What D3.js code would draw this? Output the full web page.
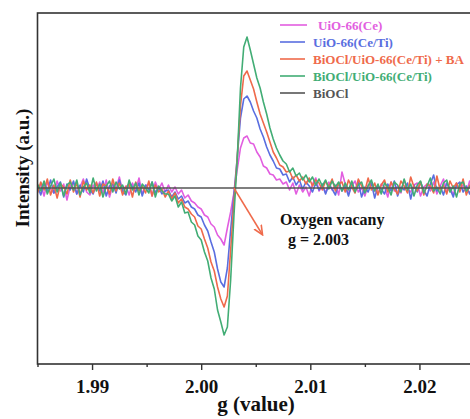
<!DOCTYPE html>
<html>
<head>
<meta charset="utf-8">
<script src="https://cdn.jsdelivr.net/npm/d3@7"></script>
<style>
  body { margin: 0; background: #fff; }
  svg { display: block; font-family: "Liberation Serif", "Times New Roman", serif; font-weight: bold; }
</style>
</head>
<body>
<div id="chart"></div>
<script>
// g values of the field sweep (shared by every trace)
var gValues = [
  1.9850, 1.9853, 1.9856, 1.9859, 1.9862, 1.9865, 1.9868, 1.9871, 1.9874, 1.9877,
  1.9880, 1.9883, 1.9886, 1.9889, 1.9892, 1.9895, 1.9898, 1.9901, 1.9904, 1.9907,
  1.9910, 1.9913, 1.9916, 1.9919, 1.9922, 1.9925, 1.9928, 1.9931, 1.9934, 1.9937,
  1.9940, 1.9943, 1.9946, 1.9949, 1.9952, 1.9955, 1.9958, 1.9961, 1.9964, 1.9967,
  1.9970, 1.9973, 1.9976, 1.9979, 1.9982, 1.9985, 1.9988, 1.9991, 1.9994, 1.9997,
  2.0000, 2.0003, 2.0006, 2.0009, 2.0012, 2.0015, 2.0018, 2.0021, 2.0024, 2.0027,
  2.0030, 2.0033, 2.0036, 2.0039, 2.0042, 2.0045, 2.0048, 2.0051, 2.0054, 2.0057,
  2.0060, 2.0063, 2.0066, 2.0069, 2.0072, 2.0075, 2.0078, 2.0081, 2.0084, 2.0087,
  2.0090, 2.0093, 2.0096, 2.0099, 2.0102, 2.0105, 2.0108, 2.0111, 2.0114, 2.0117,
  2.0120, 2.0123, 2.0126, 2.0129, 2.0132, 2.0135, 2.0138, 2.0141, 2.0144, 2.0147,
  2.0150, 2.0153, 2.0156, 2.0159, 2.0162, 2.0165, 2.0168, 2.0171, 2.0174, 2.0177,
  2.0180, 2.0183, 2.0186, 2.0189, 2.0192, 2.0195, 2.0198, 2.0201, 2.0204, 2.0207,
  2.0210, 2.0213, 2.0216, 2.0219, 2.0222, 2.0225, 2.0228, 2.0231, 2.0234, 2.0237,
  2.0240, 2.0243, 2.0246, 2.0249
];

// intensities (a.u.)
var uioCe = [
  -3, 4, -8, 6, -1, -5, 7, -3, 4, -12,
  2, 5, -6, 1, 9, -4, -7, 3, -2, 6,
  -5, 8, -9, 3, -1, 11, -4, 2, -7, 5,
  -3, 10, -6, 2, 4, -8, 6, -2, 5, -4,
  3, -4, 1, -6, -2, -10, -7, -13, -15, -19,
  -21, -27, -29, -36, -39, -47, -51, -57, -40, -24,
  -5, 18, 40, 50, 52, 45, 44, 36, 31, 22,
  20, 14, 13, 8, 9, 4, 6, -2, 5, -6,
  3, -4, 1, -8, 4, 10, -3, 2, -5, 6,
  -2, 3, -7, 16, 4, -6, 2, 7, -4, 0,
  -8, 3, 5, -2, -6, 4, 1, -9, 6, -3,
  2, -5, 8, -1, -4, 3, 5, -8, 1, 4,
  -3, 6, -6, 2, 9, -4, 1, -7, 5, -2,
  3, -5, 7, -1
];
var uioCeTi = [
  2, -7, 5, -3, 8, -5, 1, 6, -9, 4,
  -2, 7, -6, 3, -4, 9, -1, -6, 5, -3,
  7, -8, 2, 4, -5, 8, -3, -7, 6, 1,
  -4, 5, -8, 3, -2, 6, -5, 1, -6, -3,
  -2, -9, -4, -11, -8, -15, -13, -19, -21, -27,
  -29, -37, -43, -54, -64, -81, -94, -99, -80, -42,
  -6, 30, 70, 89, 92, 86, 77, 70, 59, 51,
  41, 33, 27, 20, 19, 13, 14, 6, 11, 3,
  8, -1, 6, 2, -4, 5, -2, 4, -6, 3,
  -1, -7, 5, -3, 2, -8, 4, -2, 6, -9,
  1, -4, 5, -10, 2, -1, -6, 4, -3, 7,
  -8, 1, -2, 5, -11, 3, -4, 6, -2, -8,
  4, 13, -3, 2, -7, 5, -1, -9, 3, 6,
  -4, 2, -6, 4
];
var compositeBA = [
  -5, 6, -2, 9, -7, 3, -10, 4, 1, -6,
  8, -4, 5, -9, 7, -2, 3, -5, 6, -8,
  4, 2, -6, 9, -3, 5, -7, 1, 4, -9,
  6, -3, 2, -5, 7, -8, 3, -4, -1, -9,
  -3, -11, -5, -15, -11, -19, -21, -26, -29, -38,
  -41, -51, -60, -74, -83, -99, -111, -119, -108, -62,
  -14, 30, 82, 112, 117, 108, 99, 86, 74, 65,
  56, 46, 36, 30, 23, 21, 16, 17, 9, 13,
  7, 11, 4, 10, 2, 8, 5, -2, 7, 1,
  9, -3, 4, 6, -4, 8, 1, -5, 9, 2,
  -3, 10, -2, 5, -7, 3, 8, -4, 6, -1,
  -6, 7, 2, -5, 11, 1, -3, 6, -7, 4,
  2, -5, 12, -2, 3, -6, 7, 0, 5, -4,
  9, -7, 3, -2
];
var composite = [
  4, -3, 7, -6, 2, 9, -4, 5, -8, 3,
  6, -2, 8, -7, 1, 5, -5, 10, -3, 4,
  -9, 2, 7, -4, 6, -1, 3, -6, 8, -2,
  5, -7, 4, 0, -5, 6, -9, 2, -3, -6,
  -6, -13, -8, -19, -14, -25, -24, -34, -37, -48,
  -52, -64, -73, -90, -101, -122, -134, -147, -139, -92,
  -28, 28, 100, 141, 151, 138, 124, 110, 100, 86,
  74, 60, 49, 40, 33, 27, 24, 16, 20, 12,
  15, 8, 13, 6, 11, 3, 9, 2, 8, -1,
  7, 1, 6, -3, 5, -2, 7, -4, 3, 6,
  -5, 2, 8, -3, 4, -6, 5, 1, -7, 6,
  3, -4, 9, -2, 4, -8, 3, 7, -5, 2,
  10, -3, 1, -6, 5, 8, -4, 2, -9, 4,
  6, -3, 1, 5
];
// BiOCl gives a flat line
var bioclG = [1.985, 2.025];
var biocl = [0, 0];

var seriesNames = ["UiO-66(Ce)", "UiO-66(Ce/Ti)", "BiOCl/UiO-66(Ce/Ti) + BA", "BiOCl/UiO-66(Ce/Ti)", "BiOCl"];
var seriesColors = ["#e25ee0", "#5a6ee0", "#ef6a4b", "#42ad75", "#555555"];
var majorTicks = [1.99, 2.00, 2.01, 2.02];
var minorTicks = [1.985, 1.995, 2.005, 2.015, 2.025];

var width = 470, height = 419;
var plotLeft = 37.5, plotTop = 13, plotBottom = 364, plotRight = 474;

var svg = d3.select("#chart").append("svg")
  .attr("width", width)
  .attr("height", height);

var x = d3.scaleLinear().domain([1.985, 2.025]).range([plotLeft, plotRight]);
var y = d3.scaleLinear().domain([-176, 175]).range([plotBottom, plotTop]);

var traces = [
  { g: gValues, v: uioCe },
  { g: gValues, v: uioCeTi },
  { g: gValues, v: compositeBA },
  { g: gValues, v: composite },
  { g: bioclG, v: biocl }
];

var line = d3.line()
  .x(function(d) { return x(d[0]); })
  .y(function(d) { return y(d[1]); });

var defs = svg.append("defs");
defs.append("clipPath").attr("id", "plot-clip")
  .append("rect").attr("x", plotLeft).attr("y", plotTop)
  .attr("width", plotRight - plotLeft).attr("height", plotBottom - plotTop);

var plot = svg.append("g").attr("clip-path", "url(#plot-clip)");
traces.forEach(function(t, i) {
  plot.append("path")
    .datum(t.g.map(function(g, k) { return [g, t.v[k]]; }))
    .attr("fill", "none")
    .attr("stroke", seriesColors[i])
    .attr("stroke-width", 1.6)
    .attr("stroke-linejoin", "round")
    .attr("d", line);
});

// frame
svg.append("rect")
  .attr("x", plotLeft).attr("y", plotTop)
  .attr("width", plotRight - plotLeft).attr("height", plotBottom - plotTop)
  .attr("fill", "none").attr("stroke", "#333").attr("stroke-width", 1.6);

// x axis: major ticks with labels, minor ticks without
var xAxis = d3.axisBottom(x).tickValues(majorTicks).tickSize(6).tickSizeOuter(0)
  .tickFormat(d3.format(".2f"));
var ax = svg.append("g").attr("transform", "translate(0," + plotBottom + ")").call(xAxis);
ax.select(".domain").remove();
ax.selectAll(".tick line").attr("stroke", "#333").attr("stroke-width", 1.4);
ax.selectAll(".tick text")
  .attr("y", 16)
  .attr("fill", "#111")
  .style("font-family", '"Liberation Serif", "Times New Roman", serif')
  .style("font-weight", "bold")
  .style("font-size", "19px");

var minorAxis = d3.axisBottom(x).tickValues(minorTicks).tickSize(3).tickFormat("");
var mx = svg.append("g").attr("transform", "translate(0," + plotBottom + ")").call(minorAxis);
mx.select(".domain").remove();
mx.selectAll(".tick line").attr("stroke", "#333").attr("stroke-width", 1.4);

// axis titles
svg.append("text")
  .attr("x", 256).attr("y", 411)
  .attr("text-anchor", "middle")
  .style("font-size", "21px")
  .attr("fill", "#111")
  .text("g (value)");

svg.append("text")
  .attr("transform", "translate(29,168) rotate(-90)")
  .attr("text-anchor", "middle")
  .style("font-size", "19px")
  .attr("fill", "#111")
  .text("Intensity (a.u.)");

// legend
var legend = svg.append("g");
seriesNames.forEach(function(name, i) {
  var ly = 25 + i * 17;
  legend.append("line")
    .attr("x1", 280).attr("x2", i == 0 ? 307 : 305)
    .attr("y1", ly).attr("y2", ly)
    .attr("stroke", seriesColors[i]).attr("stroke-width", 1.6);
  legend.append("text")
    .attr("x", i == 0 ? 318 : 313).attr("y", ly + 4.5)
    .attr("fill", seriesColors[i])
    .style("font-size", "13px")
    .text(name);
});

// annotation with arrow
var arrowColor = "#ef6a4b";
defs.append("marker")
  .attr("id", "arrowhead")
  .attr("viewBox", "0 0 10 10")
  .attr("refX", 8).attr("refY", 5)
  .attr("markerWidth", 7).attr("markerHeight", 7)
  .attr("orient", "auto")
  .append("path").attr("d", "M0,1 L9,5 L0,9").attr("fill", "none")
  .attr("stroke", arrowColor).attr("stroke-width", 1.5);

svg.append("line")
  .attr("x1", x(2.003)).attr("y1", y(0))
  .attr("x2", 262).attr("y2", 234)
  .attr("stroke", arrowColor).attr("stroke-width", 1.5)
  .attr("marker-end", "url(#arrowhead)");

svg.append("text").attr("x", 280).attr("y", 225)
  .style("font-size", "16px").attr("fill", "#111")
  .text("Oxygen vacany");
svg.append("text").attr("x", 288).attr("y", 245)
  .style("font-size", "16px").attr("fill", "#111")
  .text("g = 2.003");
</script>
</body>
</html>
